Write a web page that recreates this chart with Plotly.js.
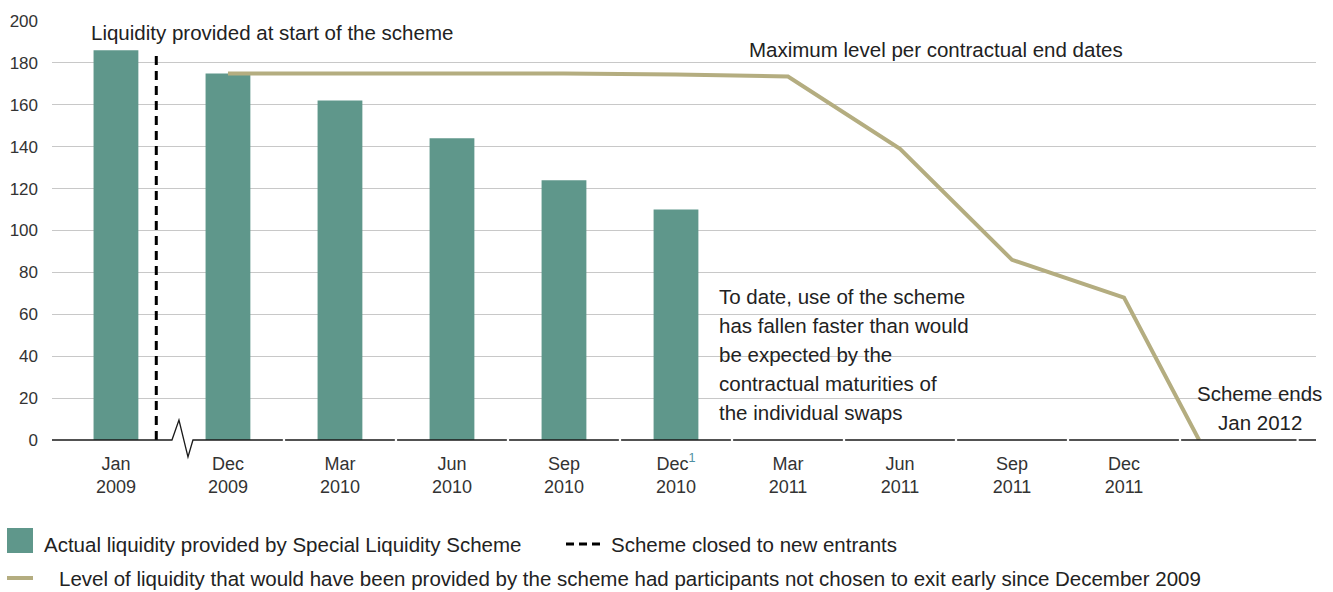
<!DOCTYPE html>
<html>
<head>
<meta charset="utf-8">
<script src="https://cdn.plot.ly/plotly-3.0.1.min.js"></script>
<style>
  html, body { margin: 0; padding: 0; background: #fff; }
  #plot { width: 1333px; height: 592px; }
</style>
</head>
<body>
<div id="plot"></div>
<script>
// categories on the x axis (Jan 2009 then a break, then quarterly)
const monthPos = [0, 1, 2, 3, 4, 5, 6, 7, 8, 9];
const monthLabels = [
    'Jan<br>2009', 'Dec<br>2009', 'Mar<br>2010', 'Jun<br>2010', 'Sep<br>2010',
    'Dec<span style="color:#4f8fa3"><sup>1</sup></span><br>2010',
    'Mar<br>2011', 'Jun<br>2011', 'Sep<br>2011', 'Dec<br>2011'
];

// actual liquidity provided (bars), £ billions
const actualPos = [0, 1, 2, 3, 4, 5];
const actualValues = [186, 175, 162, 144, 124, 110];

// maximum level per contractual end dates (line), last point = Jan 2012
const maxPos = [1, 2, 3, 4, 5, 6, 7, 8, 9, 9.67];
const maxValues = [175, 175, 175, 175, 174.5, 173.5, 139, 86, 68, 0];

// scheme closed to new entrants (dashed marker)
const closedPos = [0.36, 0.36];
const closedValues = [0, 186];

const tealColor = '#5f978b';
const khakiColor = '#b4ad80';
const textColor = '#222222';
const font = 'Liberation Sans, Arial, sans-serif';
const noteSize = 20.5;

// plot area in pixels: x 52..1316, y 21..440
const L = 52, R = 1316, T = 21, B = 440;
const pxX = p => (p - L) / (R - L);
const pxY = p => (B - p) / (B - T);
const xMin = -0.571, xMax = 10.714;

// axis line with small gaps between categories and a break after Jan 2009
const gaps = [1.5, 2.5, 3.5, 4.5, 5.5, 6.5, 7.5, 8.5, 9.5, 10.55];
let axisPath = `M ${xMin},0 L 0.5,0 L 0.5625,${pxY(420)} L 0.643,${pxY(457)} L 0.6875,0`;
gaps.forEach(g => {
    axisPath += ` L ${g - 0.01},0 M ${g + 0.01},0`;
});
axisPath += ` L ${xMax},0`;

const traces = [
    {
        type: 'bar',
        x: actualPos,
        y: actualValues,
        width: 0.4,
        marker: { color: tealColor },
        hoverinfo: 'y',
        showlegend: false,
    },
    {
        type: 'scatter',
        mode: 'lines',
        x: closedPos,
        y: closedValues,
        line: { color: '#000', width: 3, dash: '9px,6px' },
        showlegend: false,
    },
    {
        type: 'scatter',
        mode: 'lines',
        x: maxPos,
        y: maxValues,
        line: { color: khakiColor, width: 4 },
        showlegend: false,
        cliponaxis: false,
    },
];

const ann = (text, x, y, xanchor) => ({
    text: text, x: x, y: y, xref: 'x', yref: 'y',
    xanchor: xanchor, yanchor: 'middle', showarrow: false,
    font: { family: font, size: noteSize, color: textColor },
});

const boxLines = [
    'To date, use of the scheme',
    'has fallen faster than would',
    'be expected by the',
    'contractual maturities of',
    'the individual swaps'
];

const annotations = [
    ann('Liquidity provided at start of the scheme', -0.241, 194.3, 'left'),
    ann('Maximum level per contractual end dates', 5.633, 186.2, 'left'),
    ann('Scheme ends', 10.21, (B - 393) / 2.095, 'center'),
    ann('Jan 2012', 10.21, (B - 422) / 2.095, 'center'),
];
boxLines.forEach((t, i) => {
    annotations.push(ann(t, 5.366, (B - (296 + 29 * i)) / 2.095, 'left'));
});

// legend drawn by hand below the chart
const legAnn = (text, xpx, ypx) => ({
    text: text, x: pxX(xpx), y: pxY(ypx), xref: 'paper', yref: 'paper',
    xanchor: 'left', yanchor: 'middle', showarrow: false,
    font: { family: font, size: noteSize, color: textColor },
});
annotations.push(legAnn('Actual liquidity provided by Special Liquidity Scheme', 42, 544));
annotations.push(legAnn('Scheme closed to new entrants', 609, 544));
annotations.push(legAnn('Level of liquidity that would have been provided by the scheme had participants not chosen to exit early since December 2009', 57, 578));

const shapes = [
    // white backing for the two text blocks
    { type: 'rect', layer: 'between', xref: 'paper', yref: 'paper',
      x0: pxX(714), x1: pxX(976), y0: pxY(425), y1: pxY(282),
      fillcolor: '#fff', line: { width: 0 } },
    { type: 'rect', layer: 'between', xref: 'paper', yref: 'paper',
      x0: pxX(1190), x1: pxX(1320), y0: pxY(437), y1: pxY(378),
      fillcolor: '#fff', line: { width: 0 } },
    // axis line
    { type: 'path', xref: 'x', yref: 'paper', path: axisPath,
      line: { color: '#1a1a1a', width: 1.3 } },
    // legend swatches
    { type: 'rect', xref: 'paper', yref: 'paper',
      x0: pxX(7), x1: pxX(33), y0: pxY(553), y1: pxY(528),
      fillcolor: tealColor, line: { width: 0 } },
    { type: 'line', xref: 'paper', yref: 'paper',
      x0: pxX(566), x1: pxX(600), y0: pxY(544), y1: pxY(544),
      line: { color: '#000', width: 3, dash: '8px,5px' } },
    { type: 'line', xref: 'paper', yref: 'paper',
      x0: pxX(7), x1: pxX(33), y0: pxY(578), y1: pxY(578),
      line: { color: khakiColor, width: 4 } },
];

const layout = {
    width: 1333,
    height: 592,
    margin: { l: L, r: 1333 - R, t: T, b: 592 - B },
    paper_bgcolor: '#fff',
    plot_bgcolor: '#fff',
    font: { family: font, color: textColor },
    showlegend: false,
    xaxis: {
        range: [xMin, xMax],
        tickvals: monthPos,
        ticktext: monthLabels,
        showgrid: false,
        zeroline: false,
        showline: false,
        ticks: '',
        ticklabelstandoff: 11,
        tickfont: { family: font, size: 18, color: '#333' },
        fixedrange: true,
    },
    yaxis: {
        range: [0, 200],
        tick0: 0,
        dtick: 20,
        showgrid: true,
        gridcolor: '#c8c8c8',
        gridwidth: 1,
        zeroline: false,
        showline: false,
        ticks: '',
        ticklabelstandoff: 13,
        tickfont: { family: font, size: 17, color: '#333' },
        fixedrange: true,
    },
    annotations: annotations,
    shapes: shapes,
};

Plotly.newPlot('plot', traces, layout, { displayModeBar: false, staticPlot: true });
</script>
</body>
</html>
